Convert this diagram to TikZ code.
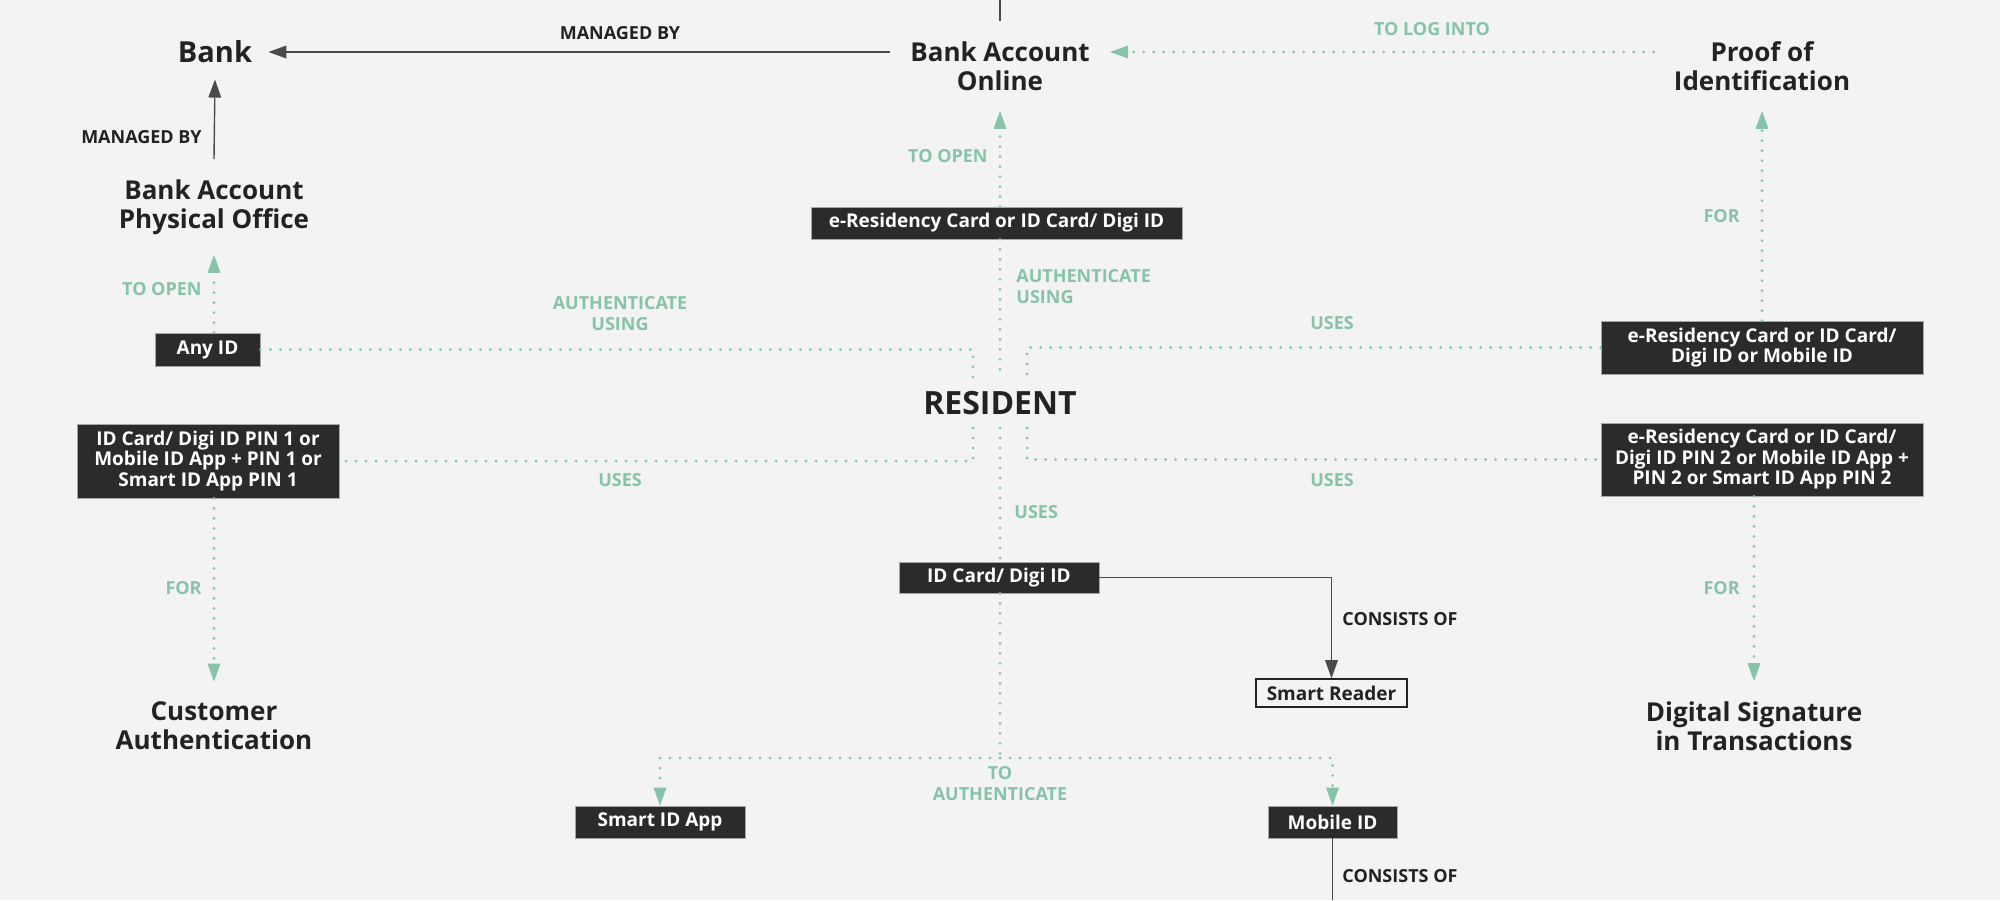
\documentclass[tikz,border=0pt]{standalone}
\usepackage{fontspec}
\setmainfont{Open Sans}
\usetikzlibrary{arrows.meta}
\definecolor{bg}{HTML}{F3F3F3}
\definecolor{ink}{HTML}{222222}
\definecolor{mint}{HTML}{86C3A8}
\definecolor{boxc}{HTML}{2B2B2A}
\definecolor{wirec}{HTML}{4A4A4A}
\begin{document}
\begin{tikzpicture}[x=.5pt,y=-.5pt,
	every node/.style={font=\bfseries\fontsize{9}{10.5}\selectfont,inner sep=1pt},
	ttl/.style={text=ink,align=center,inner sep=10pt,font=\bfseries\fontsize{13}{14.5}\selectfont},
	idbox/.style={fill=boxc,draw=gray!70,line width=.4pt,text=white,align=center,inner sep=0pt,font=\bfseries\fontsize{9.5}{10.25}\selectfont},
	lbl/.style={text=mint,align=center},
	dlbl/.style={text=ink},
	conn/.style={wirec,line width=.7pt},
	dotl/.style={mint,line width=1.5pt,line cap=round,dash pattern=on 0pt off 5pt},
	arr/.style={-{Triangle[length=9pt,width=6.5pt,line width=0pt]}}]
		\fill[bg](0,0)rectangle(2000,900);
		\useasboundingbox(0,0)rectangle(2000,900);
		\coordinate(T)at(1000,0);
		\coordinate(RL)at(973,378);
		\coordinate(RC)at(1000,378);
		\coordinate(RR)at(1027,378);
		\coordinate(RL')at(973,428);
		\coordinate(RC')at(1000,428);
		\coordinate(RR')at(1027,428);
		\coordinate(H)at(1000,758);
		\coordinate(M)at(1332.5,900);
		\node[ttl,inner sep=8pt,font=\bfseries\fontsize{14.5}{16}\selectfont](Bk)at(215,52){Bank};
		\node[ttl](BAO)at(1000,66){Bank Account\\Online};
		\node[ttl](PoI)at(1762,66){Proof of\\Identification};
		\node[ttl](BAP)at(214,207){Bank Account\\Physical Office};
		\node[ttl](CA)at(214,726){Customer\\Authentication};
		\node[ttl](DS)at(1754,726){Digital Signature\\in Transactions};
		\node[ttl,font=\bfseries\fontsize{16}{18}\selectfont](R)at(1000,403){RESIDENT};
		\node[idbox,minimum width=185.5pt,minimum height=16pt](E1)at(996.5,223){e-Residency Card or ID Card/ Digi ID};
		\node[idbox,minimum width=52.5pt,minimum height=16.5pt](AI)at(207.5,349.5){Any ID};
		\node[idbox,minimum width=131pt,minimum height=37pt](P1)at(208,461){ID Card/ Digi ID PIN 1 or\\Mobile ID App + PIN 1 or\\Smart ID App PIN 1};
		\node[idbox,minimum width=161pt,minimum height=26.5pt](E2)at(1762,347.5){e-Residency Card or ID Card/\\Digi ID or Mobile ID};
		\node[idbox,minimum width=161pt,minimum height=36.5pt](P2)at(1762,459.5){e-Residency Card or ID Card/\\Digi ID PIN 2 or Mobile ID App +\\PIN 2 or Smart ID App PIN 2};
		\node[idbox,minimum width=100pt,minimum height=15.5pt](IC)at(999,577.5){ID Card/ Digi ID};
		\node[idbox,fill=bg,draw=ink,line width=.8pt,text=ink,minimum width=75.5pt,minimum height=14pt](SR)at(1331.5,693){Smart Reader};
		\node[idbox,minimum width=85pt,minimum height=16pt](SA)at(660,822){Smart ID App};
		\node[idbox,minimum width=64.5pt,minimum height=16pt](MI)at(1332.5,822){Mobile ID};
		\node[dlbl](m1)at(620,33){MANAGED BY};
		\node[dlbl,anchor=east](m2)at(204,137){MANAGED BY};
		\node[lbl,anchor=east](o1)at(204,289){TO OPEN};
		\node[lbl,anchor=east](o2)at(990,156){TO OPEN};
		\node[lbl](a1)at(620,314){AUTHENTICATE\\USING};
		\node[lbl,anchor=west,align=left](a2)at(1014,287){AUTHENTICATE\\USING};
		\node[lbl](g1)at(1432,29){TO LOG INTO};
		\node[lbl,anchor=east](f1)at(1742,216){FOR};
		\node[lbl](u1)at(1332,323){USES};
		\node[lbl](u2)at(620,480){USES};
		\node[lbl](u3)at(1332,480){USES};
		\node[lbl,anchor=west](u4)at(1012,512){USES};
		\node[lbl,anchor=east](f2)at(204,588){FOR};
		\node[lbl,anchor=east](f3)at(1742,588){FOR};
		\node[dlbl,anchor=west](c1)at(1340,619){CONSISTS OF};
		\node[lbl](a3)at(1000,784){TO\\AUTHENTICATE};
		\node[dlbl,anchor=west](c2)at(1340,876){CONSISTS OF};
		\draw[conn,arr](BAO.west|-Bk)--(Bk.east);
		\draw[conn,arr](BAP.north)--(Bk.south);
		\draw[conn](T)--(BAO.north);
		\draw[dotl,arr](PoI.west|-Bk)--(BAO.east|-Bk);
		\draw[dotl,arr](E1.north-|T)--(BAO.south);
		\draw[dotl](E1.south-|T)--(RC);
		\draw[dotl,arr](AI.north-|BAP)--(BAP.south);
		\draw[dotl](AI.east)-|(RL);
		\draw[dotl](E2.west)-|(RR);
		\draw[dotl,arr](E2.north)--(PoI.south);
		\draw[dotl](RL')|-(P1.east);
		\draw[dotl](RR')|-(P2.west);
		\draw[dotl](RC')--(IC.north-|T);
		\draw[dotl,arr](P1.south-|CA)--(CA.north);
		\draw[dotl,arr](P2.south-|DS)--(DS.north);
		\draw[conn,arr](IC.east)-|(SR.north);
		\draw[dotl](IC.south-|T)--(H);
		\draw[dotl,arr](H)-|(SA.north);
		\draw[dotl,arr](H)-|(MI.north);
		\draw[conn](MI.south)--(M);
		\end{tikzpicture}
\end{document}
